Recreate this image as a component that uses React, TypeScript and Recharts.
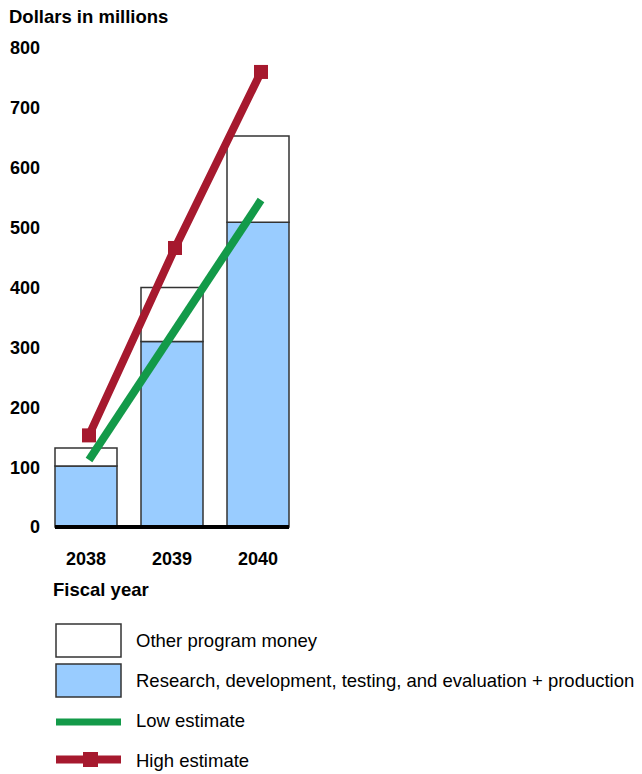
import React from 'react';
import { ComposedChart, Bar, Line, XAxis, YAxis } from 'recharts';

const years = ['2038', '2039', '2040'];
const rdteProduction = [102, 310, 509];
const otherProgram = [30, 90, 144];
const lowEstimate = [112, 329, 546];
const highEstimate = [153, 466, 760];
const yTicks = [0, 100, 200, 300, 400, 500, 600, 700, 800];

const BLUE = '#99CCFF';
const RED = '#A6192E';
const GREEN = '#139A49';
const STROKE = '#333333';
const FONT = '"Liberation Sans", Arial, Helvetica, sans-serif';

const data = years.map((year, i) => ({
  year,
  rdte: rdteProduction[i],
  other: otherProgram[i],
  low: lowEstimate[i],
  high: highEstimate[i],
}));

const legendItems = [
  { label: 'Other program money', kind: 'box', color: '#FFFFFF' },
  { label: 'Research, development, testing, and evaluation + production', kind: 'box', color: BLUE },
  { label: 'Low estimate', kind: 'line', color: GREEN },
  { label: 'High estimate', kind: 'marker', color: RED },
];

const SquareDot = (props: any) => {
  const { cx, cy, index } = props;
  if (cx == null || cy == null) return null;
  return <rect key={`sq-${index}`} x={cx - 7} y={cy - 7} width={14} height={14} fill={RED} />;
};

export default function App() {
  return (
    <div style={{ position: 'absolute', left: 0, top: 0, width: 642, height: 774, background: '#fff', fontFamily: FONT }}>
      <ComposedChart
        width={642}
        height={610}
        data={data}
        margin={{ top: 48, right: 353, bottom: 43, left: 0 }}
        style={{ fontFamily: FONT }}
      >
        <XAxis
          dataKey="year"
          interval={0}
          height={40}
          padding={{ left: -12, right: -12 }}
          tickLine={false}
          tickSize={0}
          tickMargin={25}
          axisLine={{ stroke: '#000000', strokeWidth: 4 }}
          tick={{ fontSize: 18, fontWeight: 700, fill: '#000000', fontFamily: FONT }}
        />
        <XAxis
          xAxisId="line"
          dataKey="year"
          hide
          padding={{ left: -9, right: -15 }}
        />
        <YAxis
          domain={[0, 800]}
          ticks={yTicks}
          width={55}
          axisLine={false}
          tickLine={false}
          tickSize={0}
          tickMargin={15}
          interval={0}
          tick={{ fontSize: 18, fontWeight: 700, fill: '#000000', fontFamily: FONT }}
        />
        <Bar dataKey="rdte" stackId="a" fill={BLUE} stroke={STROKE} strokeWidth={1.5} barSize={62} isAnimationActive={false} />
        <Bar dataKey="other" stackId="a" fill="#FFFFFF" stroke={STROKE} strokeWidth={1.5} barSize={62} isAnimationActive={false} />
        <Line
          xAxisId="line"
          dataKey="low"
          type="linear"
          stroke={GREEN}
          strokeWidth={8}
          dot={false}
          activeDot={false}
          isAnimationActive={false}
        />
        <Line
          xAxisId="line"
          dataKey="high"
          type="linear"
          stroke={RED}
          strokeWidth={8}
          dot={SquareDot}
          activeDot={false}
          isAnimationActive={false}
        />
      </ComposedChart>
      <svg
        width={642}
        height={774}
        style={{ position: 'absolute', left: 0, top: 0, pointerEvents: 'none', fontFamily: FONT }}
      >
        <text x={9} y={23} fontSize={18.5} fontWeight={700} fill="#000">Dollars in millions</text>
        <text x={53} y={596} fontSize={18.5} fontWeight={700} fill="#000">Fiscal year</text>
        {legendItems.map((item, i) => {
          const rowY = [640.5, 680.5, 722, 759.5][i];
          const baseY = [647, 687, 727, 767][i];
          return (
            <g key={item.label}>
              {item.kind === 'box' && (
                <rect x={56} y={rowY - 16.5} width={65} height={33} fill={item.color} stroke={STROKE} strokeWidth={1.5} />
              )}
              {item.kind === 'line' && (
                <line x1={56} x2={121} y1={rowY} y2={rowY} stroke={item.color} strokeWidth={7} />
              )}
              {item.kind === 'marker' && (
                <g>
                  <line x1={56} x2={121} y1={rowY} y2={rowY} stroke={item.color} strokeWidth={8} />
                  <rect x={83} y={rowY - 7.5} width={15} height={15} fill={item.color} />
                </g>
              )}
              <text x={136} y={baseY} fontSize={18.5} fill="#000">{item.label}</text>
            </g>
          );
        })}
      </svg>
    </div>
  );
}
